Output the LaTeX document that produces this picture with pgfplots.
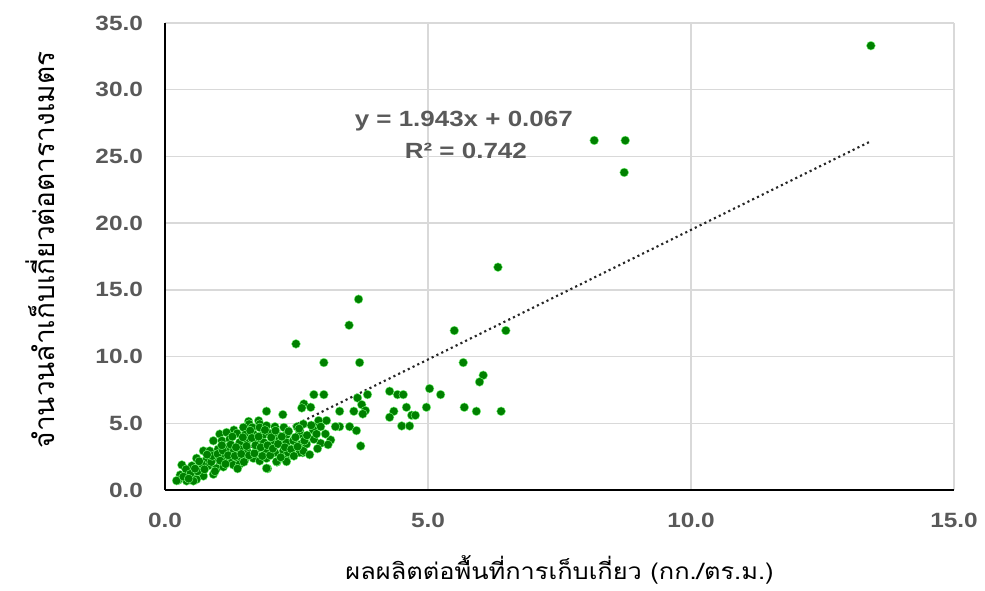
\documentclass[border=0pt]{standalone}
\usepackage{pgfplots}
\pgfplotsset{compat=1.18}
\usepackage{fontspec}
\setmainfont{Liberation Sans}
\newfontfamily\widesans[FakeStretch=1.18]{Liberation Sans}
\newfontfamily\thaifont[Script=Thai, FakeStretch=1.12]{Loma}
\newfontfamily\thaifontv[Script=Thai]{Loma}

\definecolor{pointgreen}{RGB}{0,128,0}
\definecolor{ticktext}{RGB}{89,89,89}
\definecolor{gridgray}{RGB}{217,217,217}

\begin{document}
\begin{tikzpicture}[x=0.75pt,y=0.75pt]
\begin{axis}[
  at={(0,0)}, anchor=south west,
  scale only axis,
  width=591.75pt, height=350.25pt,
  xmin=0, xmax=15, ymin=0, ymax=35,
  xtick={0,5,10,15}, ytick={0,5,...,35},
  axis x line*=bottom, axis y line*=left,
  axis line style={black, line width=2.2pt},
  grid=major,
  major grid style={gridgray, line width=1.1pt},
  major tick length=0pt,
  /pgf/number format/assume math mode=true,
  /pgf/number format/.cd, fixed, fixed zerofill, precision=1, /pgfplots/.cd,
  ticklabel style={font=\widesans\fontsize{15.5}{17}\selectfont\bfseries, text=ticktext},
  xticklabel style={yshift=-14pt},
  yticklabel style={xshift=-13pt},
  xlabel={\thaifont ผลผลิตต่อพื้นที่การเก็บเกี่ยว (กก./ตร.ม.)},
  ylabel={\thaifontv จำนวนลำเก็บเกี่ยวต่อตารางเมตร},
  xlabel style={font=\fontsize{17}{19}\selectfont,
    at={(axis description cs:0.5,-0.172)}, anchor=center},
  ylabel style={font=\fontsize{21}{23}\selectfont,
    at={(axis description cs:-0.1584,0.514)}, anchor=center},
  clip=false,
]
% harvested yield vs. stalks per square metre
\addplot[only marks, mark=*, mark size=3.3pt,
  mark options={fill=pointgreen, draw=green!50!white, line width=0.3pt}]
  table[row sep=\\]{
x y\\
13.42 33.3\\ 8.16 26.2\\ 8.75 26.2\\ 8.73 23.8\\ 6.33 16.7\\
3.68 14.3\\ 3.50 12.35\\ 5.50 11.95\\ 6.48 11.95\\ 2.49 10.95\\
3.02 9.55\\ 3.70 9.55\\ 5.67 9.55\\ 6.05 8.6\\ 5.98 8.1\\
5.03 7.6\\ 5.24 7.15\\ 5.69 6.2\\ 5.92 5.9\\ 6.39 5.9\\
4.27 7.4\\ 4.42 7.15\\ 4.53 7.15\\ 4.59 6.2\\ 4.35 5.9\\
4.27 5.45\\ 4.69 5.6\\ 4.76 5.6\\ 4.97 6.2\\ 4.50 4.8\\
4.65 4.8\\ 3.85 7.15\\ 3.66 6.9\\ 3.74 6.4\\ 3.81 5.95\\
3.76 5.7\\ 3.59 5.9\\ 3.32 5.9\\ 2.83 7.15\\ 3.02 7.15\\
2.64 6.45\\ 2.60 6.15\\ 2.77 6.2\\ 3.72 3.3\\ 3.51 4.75\\
3.32 4.75\\ 3.24 4.75\\ 3.64 4.45\\ 3.07 5.2\\ 2.92 5.2\\
2.83 4.75\\ 2.96 4.75\\ 3.15 3.75\\ 2.96 3.5\\ 2.83 3.8\\
2.24 5.65\\ 1.93 5.9\\ 2.62 2.8\\ 2.54 3.2\\ 2.30 2.3\\
2.13 2.1\\ 1.95 1.6\\
1.59 5.14\\ 1.78 5.19\\ 1.80 4.94\\ 1.60 4.94\\ 1.31 4.49\\
1.49 4.69\\ 1.66 4.69\\ 1.80 4.69\\ 1.93 4.82\\ 2.09 4.74\\
2.26 4.69\\ 2.51 4.74\\ 2.63 4.94\\
1.04 4.19\\ 1.17 4.31\\ 1.37 4.24\\ 1.52 4.14\\ 1.68 4.19\\
1.87 4.14\\ 1.99 4.24\\ 2.12 4.14\\ 2.31 4.14\\ 2.56 4.19\\
2.82 4.49\\ 2.56 4.44\\
0.92 3.69\\ 1.08 3.69\\ 1.23 3.81\\ 1.42 3.56\\ 1.56 3.69\\
1.74 3.69\\ 1.88 3.56\\ 2.06 3.69\\ 2.18 3.81\\ 2.31 3.56\\
2.44 3.69\\ 2.59 3.44\\ 2.69 3.44\\
0.73 2.93\\ 0.85 2.93\\ 1.01 3.06\\ 1.17 3.19\\ 1.30 2.88\\
1.42 3.06\\ 1.56 2.93\\ 1.74 3.06\\ 1.93 2.93\\ 2.09 2.81\\
2.25 2.93\\ 2.34 2.81\\ 2.56 2.81\\ 2.63 2.93\\
0.60 2.38\\ 0.79 2.31\\ 0.95 2.38\\ 1.11 2.43\\ 1.23 2.23\\
1.39 2.31\\ 1.52 2.31\\ 1.68 2.38\\ 1.80 2.18\\ 1.93 2.38\\
2.12 2.13\\ 2.31 2.13\\
0.32 1.88\\ 0.51 1.81\\ 0.66 1.68\\ 0.82 1.81\\ 0.98 1.63\\
1.11 1.73\\ 1.30 1.88\\ 1.42 1.93\\ 1.93 1.63\\
0.29 1.13\\ 0.44 1.30\\ 0.54 1.05\\ 0.73 1.05\\ 0.92 1.18\\
0.41 0.68\\ 0.25 0.73\\ 0.60 0.80\\ 0.22 0.70\\ 0.54 0.68\\
0.40 1.55\\ 0.48 1.20\\ 0.62 1.40\\ 0.70 1.95\\ 0.75 1.55\\
0.88 2.10\\ 0.90 2.55\\ 1.00 2.70\\ 1.05 2.20\\ 1.10 2.95\\
1.15 1.95\\ 1.20 2.60\\ 1.25 3.40\\ 1.33 2.55\\ 1.35 3.20\\
1.45 2.70\\ 1.48 3.95\\ 1.50 2.10\\ 1.55 3.30\\ 1.60 2.60\\
1.62 4.45\\ 1.65 3.90\\ 1.70 2.75\\ 1.72 3.35\\ 1.78 4.00\\
1.82 3.20\\ 1.85 2.55\\ 1.90 4.50\\ 1.95 3.35\\ 2.00 2.60\\
2.02 3.95\\ 2.05 3.10\\ 2.10 4.45\\ 2.15 3.45\\ 2.20 2.45\\
2.22 4.00\\ 2.28 3.20\\ 2.35 4.40\\ 2.40 3.05\\ 2.45 2.55\\
2.48 3.95\\ 2.52 3.25\\ 2.55 4.60\\ 2.65 3.70\\ 2.70 4.10\\
2.75 2.65\\ 2.78 4.85\\ 2.88 4.20\\ 0.35 1.00\\ 0.45 0.85\\
0.57 1.60\\ 0.65 2.15\\ 0.80 2.65\\ 0.95 1.40\\ 1.08 3.35\\
1.28 4.00\\ 1.38 1.60\\ 2.90 3.10\\ 3.05 4.20\\ 3.10 3.40\\
};
% linear trend y = 1.943x + 0.067 over the observed range
\addplot[black!85, line width=1.6pt, dash pattern=on 1.6pt off 2.4pt]
  coordinates {(0.25,0.553) (13.42,26.142)};
\node[font=\widesans\fontsize{16.5}{18}\selectfont\bfseries, text=ticktext]
  at (axis cs:5.68,27.66) {y = 1.943x + 0.067};
\node[font=\widesans\fontsize{16.5}{18}\selectfont\bfseries, text=ticktext]
  at (axis cs:5.72,25.45) {R² = 0.742};
\end{axis}
\pgfresetboundingbox
\path (-123.75pt,-75pt) rectangle (615pt,367.5pt);
\end{tikzpicture}
\end{document}
